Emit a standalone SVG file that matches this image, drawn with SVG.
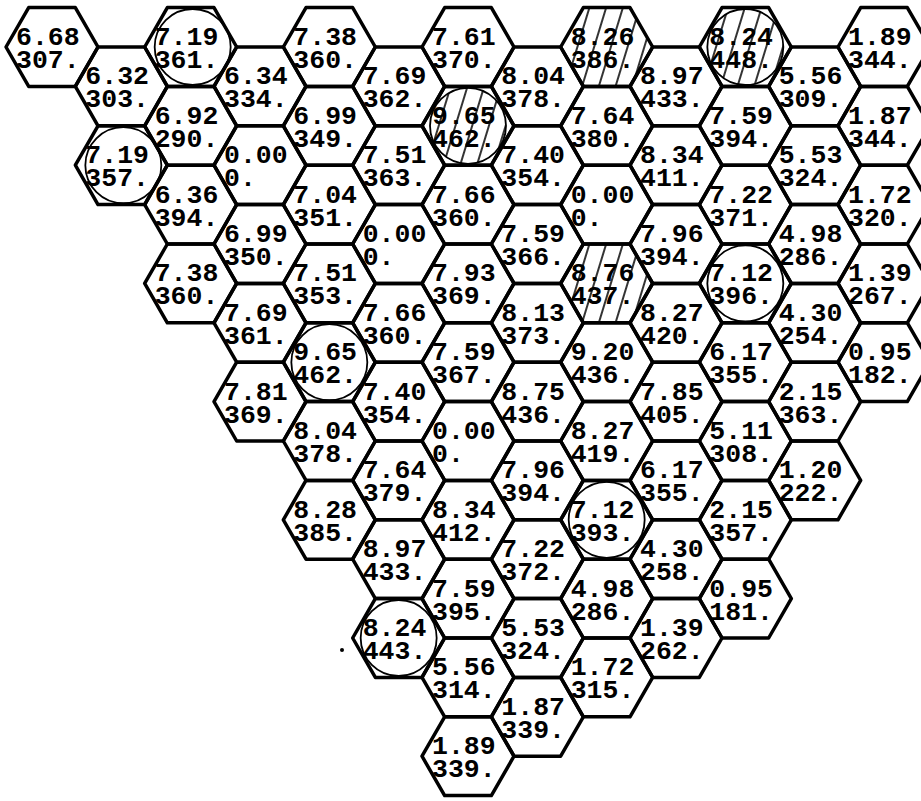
<svg xmlns="http://www.w3.org/2000/svg" xmlns:xlink="http://www.w3.org/1999/xlink" width="921" height="801" viewBox="0 0 921 801">
<style>
.hx{fill:none;stroke:#000;stroke-width:3.5;stroke-linejoin:round}
.ring{fill:none;stroke:#000;stroke-width:1.8}
.hat{fill:url(#hatch);stroke:none}
text{font-family:"Liberation Mono","DejaVu Sans Mono",monospace;font-weight:bold;font-size:26.5px;fill:#000}
</style>
<defs>
<polygon id="hex" points="-46,0 -23.33,-39.4 23.33,-39.4 46,0 23.33,39.4 -23.33,39.4"/>
<pattern id="hatch" patternUnits="userSpaceOnUse" width="16" height="16" patternTransform="rotate(17)">
<line x1="4" y1="0" x2="4" y2="16" stroke="#000" stroke-width="1.6"/>
</pattern>
</defs>
<rect x="0" y="0" width="921" height="801" fill="#fff"/>
<g id="connectors"></g>
<g id="nodes">
<g id="n-c0-r0" transform="translate(52,47)"><use xlink:href="#hex" class="hx"/><text x="-36" y="-2">6.68<tspan x="-36" dy="23">307.</tspan></text></g>

<g id="n-c1-r0" transform="translate(121.33,86.4)"><use xlink:href="#hex" class="hx"/><text x="-36" y="-2">6.32<tspan x="-36" dy="23">303.</tspan></text></g>
<g id="n-c1-r1" transform="translate(121.33,165.2)"><use xlink:href="#hex" class="hx"/><circle class="ring" r="38" cx="2"/><text x="-36" y="-2">7.19<tspan x="-36" dy="23">357.</tspan></text></g>

<g id="n-c2-r0" transform="translate(190.67,47)"><use xlink:href="#hex" class="hx"/><circle class="ring" r="38" cx="2"/><text x="-36" y="-2">7.19<tspan x="-36" dy="23">361.</tspan></text></g>
<g id="n-c2-r1" transform="translate(190.67,125.8)"><use xlink:href="#hex" class="hx"/><text x="-36" y="-2">6.92<tspan x="-36" dy="23">290.</tspan></text></g>
<g id="n-c2-r2" transform="translate(190.67,204.6)"><use xlink:href="#hex" class="hx"/><text x="-36" y="-2">6.36<tspan x="-36" dy="23">394.</tspan></text></g>
<g id="n-c2-r3" transform="translate(190.67,283.4)"><use xlink:href="#hex" class="hx"/><text x="-36" y="-2">7.38<tspan x="-36" dy="23">360.</tspan></text></g>

<g id="n-c3-r0" transform="translate(260,86.4)"><use xlink:href="#hex" class="hx"/><text x="-36" y="-2">6.34<tspan x="-36" dy="23">334.</tspan></text></g>
<g id="n-c3-r1" transform="translate(260,165.2)"><use xlink:href="#hex" class="hx"/><text x="-36" y="-2">0.00<tspan x="-36" dy="23">0.</tspan></text></g>
<g id="n-c3-r2" transform="translate(260,244)"><use xlink:href="#hex" class="hx"/><text x="-36" y="-2">6.99<tspan x="-36" dy="23">350.</tspan></text></g>
<g id="n-c3-r3" transform="translate(260,322.8)"><use xlink:href="#hex" class="hx"/><text x="-36" y="-2">7.69<tspan x="-36" dy="23">361.</tspan></text></g>
<g id="n-c3-r4" transform="translate(260,401.6)"><use xlink:href="#hex" class="hx"/><text x="-36" y="-2">7.81<tspan x="-36" dy="23">369.</tspan></text></g>

<g id="n-c4-r0" transform="translate(329.33,47)"><use xlink:href="#hex" class="hx"/><text x="-36" y="-2">7.38<tspan x="-36" dy="23">360.</tspan></text></g>
<g id="n-c4-r1" transform="translate(329.33,125.8)"><use xlink:href="#hex" class="hx"/><text x="-36" y="-2">6.99<tspan x="-36" dy="23">349.</tspan></text></g>
<g id="n-c4-r2" transform="translate(329.33,204.6)"><use xlink:href="#hex" class="hx"/><text x="-36" y="-2">7.04<tspan x="-36" dy="23">351.</tspan></text></g>
<g id="n-c4-r3" transform="translate(329.33,283.4)"><use xlink:href="#hex" class="hx"/><text x="-36" y="-2">7.51<tspan x="-36" dy="23">353.</tspan></text></g>
<g id="n-c4-r4" transform="translate(329.33,362.2)"><use xlink:href="#hex" class="hx"/><circle class="ring" r="38"/><text x="-36" y="-2">9.65<tspan x="-36" dy="23">462.</tspan></text></g>
<g id="n-c4-r5" transform="translate(329.33,441)"><use xlink:href="#hex" class="hx"/><text x="-36" y="-2">8.04<tspan x="-36" dy="23">378.</tspan></text></g>
<g id="n-c4-r6" transform="translate(329.33,519.8)"><use xlink:href="#hex" class="hx"/><text x="-36" y="-2">8.28<tspan x="-36" dy="23">385.</tspan></text></g>

<g id="n-c5-r0" transform="translate(398.67,86.4)"><use xlink:href="#hex" class="hx"/><text x="-36" y="-2">7.69<tspan x="-36" dy="23">362.</tspan></text></g>
<g id="n-c5-r1" transform="translate(398.67,165.2)"><use xlink:href="#hex" class="hx"/><text x="-36" y="-2">7.51<tspan x="-36" dy="23">363.</tspan></text></g>
<g id="n-c5-r2" transform="translate(398.67,244)"><use xlink:href="#hex" class="hx"/><text x="-36" y="-2">0.00<tspan x="-36" dy="23">0.</tspan></text></g>
<g id="n-c5-r3" transform="translate(398.67,322.8)"><use xlink:href="#hex" class="hx"/><text x="-36" y="-2">7.66<tspan x="-36" dy="23">360.</tspan></text></g>
<g id="n-c5-r4" transform="translate(398.67,401.6)"><use xlink:href="#hex" class="hx"/><text x="-36" y="-2">7.40<tspan x="-36" dy="23">354.</tspan></text></g>
<g id="n-c5-r5" transform="translate(398.67,480.4)"><use xlink:href="#hex" class="hx"/><text x="-36" y="-2">7.64<tspan x="-36" dy="23">379.</tspan></text></g>
<g id="n-c5-r6" transform="translate(398.67,559.2)"><use xlink:href="#hex" class="hx"/><text x="-36" y="-2">8.97<tspan x="-36" dy="23">433.</tspan></text></g>
<g id="n-c5-r7" transform="translate(398.67,638)"><use xlink:href="#hex" class="hx"/><circle class="ring" r="38"/><text x="-36" y="-2">8.24<tspan x="-36" dy="23">443.</tspan></text></g>

<g id="n-c6-r0" transform="translate(468,47)"><use xlink:href="#hex" class="hx"/><text x="-36" y="-2">7.61<tspan x="-36" dy="23">370.</tspan></text></g>
<g id="n-c6-r1" transform="translate(468,125.8)"><use xlink:href="#hex" class="hx"/><circle class="hat" r="38"/><circle class="ring" r="38"/><text x="-36" y="-2">9.65<tspan x="-36" dy="23">462.</tspan></text></g>
<g id="n-c6-r2" transform="translate(468,204.6)"><use xlink:href="#hex" class="hx"/><text x="-36" y="-2">7.66<tspan x="-36" dy="23">360.</tspan></text></g>
<g id="n-c6-r3" transform="translate(468,283.4)"><use xlink:href="#hex" class="hx"/><text x="-36" y="-2">7.93<tspan x="-36" dy="23">369.</tspan></text></g>
<g id="n-c6-r4" transform="translate(468,362.2)"><use xlink:href="#hex" class="hx"/><text x="-36" y="-2">7.59<tspan x="-36" dy="23">367.</tspan></text></g>
<g id="n-c6-r5" transform="translate(468,441)"><use xlink:href="#hex" class="hx"/><text x="-36" y="-2">0.00<tspan x="-36" dy="23">0.</tspan></text></g>
<g id="n-c6-r6" transform="translate(468,519.8)"><use xlink:href="#hex" class="hx"/><text x="-36" y="-2">8.34<tspan x="-36" dy="23">412.</tspan></text></g>
<g id="n-c6-r7" transform="translate(468,598.6)"><use xlink:href="#hex" class="hx"/><text x="-36" y="-2">7.59<tspan x="-36" dy="23">395.</tspan></text></g>
<g id="n-c6-r8" transform="translate(468,677.4)"><use xlink:href="#hex" class="hx"/><text x="-36" y="-2">5.56<tspan x="-36" dy="23">314.</tspan></text></g>
<g id="n-c6-r9" transform="translate(468,756.2)"><use xlink:href="#hex" class="hx"/><text x="-36" y="-2">1.89<tspan x="-36" dy="23">339.</tspan></text></g>

<g id="n-c7-r0" transform="translate(537.33,86.4)"><use xlink:href="#hex" class="hx"/><text x="-36" y="-2">8.04<tspan x="-36" dy="23">378.</tspan></text></g>
<g id="n-c7-r1" transform="translate(537.33,165.2)"><use xlink:href="#hex" class="hx"/><text x="-36" y="-2">7.40<tspan x="-36" dy="23">354.</tspan></text></g>
<g id="n-c7-r2" transform="translate(537.33,244)"><use xlink:href="#hex" class="hx"/><text x="-36" y="-2">7.59<tspan x="-36" dy="23">366.</tspan></text></g>
<g id="n-c7-r3" transform="translate(537.33,322.8)"><use xlink:href="#hex" class="hx"/><text x="-36" y="-2">8.13<tspan x="-36" dy="23">373.</tspan></text></g>
<g id="n-c7-r4" transform="translate(537.33,401.6)"><use xlink:href="#hex" class="hx"/><text x="-36" y="-2">8.75<tspan x="-36" dy="23">436.</tspan></text></g>
<g id="n-c7-r5" transform="translate(537.33,480.4)"><use xlink:href="#hex" class="hx"/><text x="-36" y="-2">7.96<tspan x="-36" dy="23">394.</tspan></text></g>
<g id="n-c7-r6" transform="translate(537.33,559.2)"><use xlink:href="#hex" class="hx"/><text x="-36" y="-2">7.22<tspan x="-36" dy="23">372.</tspan></text></g>
<g id="n-c7-r7" transform="translate(537.33,638)"><use xlink:href="#hex" class="hx"/><text x="-36" y="-2">5.53<tspan x="-36" dy="23">324.</tspan></text></g>
<g id="n-c7-r8" transform="translate(537.33,716.8)"><use xlink:href="#hex" class="hx"/><text x="-36" y="-2">1.87<tspan x="-36" dy="23">339.</tspan></text></g>

<g id="n-c8-r0" transform="translate(606.67,47)"><use xlink:href="#hex" class="hat"/><use xlink:href="#hex" class="hx"/><text x="-36" y="-2">8.26<tspan x="-36" dy="23">386.</tspan></text></g>
<g id="n-c8-r1" transform="translate(606.67,125.8)"><use xlink:href="#hex" class="hx"/><text x="-36" y="-2">7.64<tspan x="-36" dy="23">380.</tspan></text></g>
<g id="n-c8-r2" transform="translate(606.67,204.6)"><use xlink:href="#hex" class="hx"/><text x="-36" y="-2">0.00<tspan x="-36" dy="23">0.</tspan></text></g>
<g id="n-c8-r3" transform="translate(606.67,283.4)"><use xlink:href="#hex" class="hat"/><use xlink:href="#hex" class="hx"/><text x="-36" y="-2">8.76<tspan x="-36" dy="23">437.</tspan></text></g>
<g id="n-c8-r4" transform="translate(606.67,362.2)"><use xlink:href="#hex" class="hx"/><text x="-36" y="-2">9.20<tspan x="-36" dy="23">436.</tspan></text></g>
<g id="n-c8-r5" transform="translate(606.67,441)"><use xlink:href="#hex" class="hx"/><text x="-36" y="-2">8.27<tspan x="-36" dy="23">419.</tspan></text></g>
<g id="n-c8-r6" transform="translate(606.67,519.8)"><use xlink:href="#hex" class="hx"/><circle class="ring" r="38"/><text x="-36" y="-2">7.12<tspan x="-36" dy="23">393.</tspan></text></g>
<g id="n-c8-r7" transform="translate(606.67,598.6)"><use xlink:href="#hex" class="hx"/><text x="-36" y="-2">4.98<tspan x="-36" dy="23">286.</tspan></text></g>
<g id="n-c8-r8" transform="translate(606.67,677.4)"><use xlink:href="#hex" class="hx"/><text x="-36" y="-2">1.72<tspan x="-36" dy="23">315.</tspan></text></g>

<g id="n-c9-r0" transform="translate(676,86.4)"><use xlink:href="#hex" class="hx"/><text x="-36" y="-2">8.97<tspan x="-36" dy="23">433.</tspan></text></g>
<g id="n-c9-r1" transform="translate(676,165.2)"><use xlink:href="#hex" class="hx"/><text x="-36" y="-2">8.34<tspan x="-36" dy="23">411.</tspan></text></g>
<g id="n-c9-r2" transform="translate(676,244)"><use xlink:href="#hex" class="hx"/><text x="-36" y="-2">7.96<tspan x="-36" dy="23">394.</tspan></text></g>
<g id="n-c9-r3" transform="translate(676,322.8)"><use xlink:href="#hex" class="hx"/><text x="-36" y="-2">8.27<tspan x="-36" dy="23">420.</tspan></text></g>
<g id="n-c9-r4" transform="translate(676,401.6)"><use xlink:href="#hex" class="hx"/><text x="-36" y="-2">7.85<tspan x="-36" dy="23">405.</tspan></text></g>
<g id="n-c9-r5" transform="translate(676,480.4)"><use xlink:href="#hex" class="hx"/><text x="-36" y="-2">6.17<tspan x="-36" dy="23">355.</tspan></text></g>
<g id="n-c9-r6" transform="translate(676,559.2)"><use xlink:href="#hex" class="hx"/><text x="-36" y="-2">4.30<tspan x="-36" dy="23">258.</tspan></text></g>
<g id="n-c9-r7" transform="translate(676,638)"><use xlink:href="#hex" class="hx"/><text x="-36" y="-2">1.39<tspan x="-36" dy="23">262.</tspan></text></g>

<g id="n-c10-r0" transform="translate(745.33,47)"><use xlink:href="#hex" class="hx"/><circle class="hat" r="38"/><circle class="ring" r="38"/><text x="-36" y="-2">8.24<tspan x="-36" dy="23">448.</tspan></text></g>
<g id="n-c10-r1" transform="translate(745.33,125.8)"><use xlink:href="#hex" class="hx"/><text x="-36" y="-2">7.59<tspan x="-36" dy="23">394.</tspan></text></g>
<g id="n-c10-r2" transform="translate(745.33,204.6)"><use xlink:href="#hex" class="hx"/><text x="-36" y="-2">7.22<tspan x="-36" dy="23">371.</tspan></text></g>
<g id="n-c10-r3" transform="translate(745.33,283.4)"><use xlink:href="#hex" class="hx"/><circle class="ring" r="38"/><text x="-36" y="-2">7.12<tspan x="-36" dy="23">396.</tspan></text></g>
<g id="n-c10-r4" transform="translate(745.33,362.2)"><use xlink:href="#hex" class="hx"/><text x="-36" y="-2">6.17<tspan x="-36" dy="23">355.</tspan></text></g>
<g id="n-c10-r5" transform="translate(745.33,441)"><use xlink:href="#hex" class="hx"/><text x="-36" y="-2">5.11<tspan x="-36" dy="23">308.</tspan></text></g>
<g id="n-c10-r6" transform="translate(745.33,519.8)"><use xlink:href="#hex" class="hx"/><text x="-36" y="-2">2.15<tspan x="-36" dy="23">357.</tspan></text></g>
<g id="n-c10-r7" transform="translate(745.33,598.6)"><use xlink:href="#hex" class="hx"/><text x="-36" y="-2">0.95<tspan x="-36" dy="23">181.</tspan></text></g>

<g id="n-c11-r0" transform="translate(814.67,86.4)"><use xlink:href="#hex" class="hx"/><text x="-36" y="-2">5.56<tspan x="-36" dy="23">309.</tspan></text></g>
<g id="n-c11-r1" transform="translate(814.67,165.2)"><use xlink:href="#hex" class="hx"/><text x="-36" y="-2">5.53<tspan x="-36" dy="23">324.</tspan></text></g>
<g id="n-c11-r2" transform="translate(814.67,244)"><use xlink:href="#hex" class="hx"/><text x="-36" y="-2">4.98<tspan x="-36" dy="23">286.</tspan></text></g>
<g id="n-c11-r3" transform="translate(814.67,322.8)"><use xlink:href="#hex" class="hx"/><text x="-36" y="-2">4.30<tspan x="-36" dy="23">254.</tspan></text></g>
<g id="n-c11-r4" transform="translate(814.67,401.6)"><use xlink:href="#hex" class="hx"/><text x="-36" y="-2">2.15<tspan x="-36" dy="23">363.</tspan></text></g>
<g id="n-c11-r5" transform="translate(814.67,480.4)"><use xlink:href="#hex" class="hx"/><text x="-36" y="-2">1.20<tspan x="-36" dy="23">222.</tspan></text></g>

<g id="n-c12-r0" transform="translate(884,47)"><use xlink:href="#hex" class="hx"/><text x="-36" y="-2">1.89<tspan x="-36" dy="23">344.</tspan></text></g>
<g id="n-c12-r1" transform="translate(884,125.8)"><use xlink:href="#hex" class="hx"/><text x="-36" y="-2">1.87<tspan x="-36" dy="23">344.</tspan></text></g>
<g id="n-c12-r2" transform="translate(884,204.6)"><use xlink:href="#hex" class="hx"/><text x="-36" y="-2">1.72<tspan x="-36" dy="23">320.</tspan></text></g>
<g id="n-c12-r3" transform="translate(884,283.4)"><use xlink:href="#hex" class="hx"/><text x="-36" y="-2">1.39<tspan x="-36" dy="23">267.</tspan></text></g>
<g id="n-c12-r4" transform="translate(884,362.2)"><use xlink:href="#hex" class="hx"/><text x="-36" y="-2">0.95<tspan x="-36" dy="23">182.</tspan></text></g>
</g>
<circle cx="342" cy="650" r="2" fill="#000"/>
</svg>
